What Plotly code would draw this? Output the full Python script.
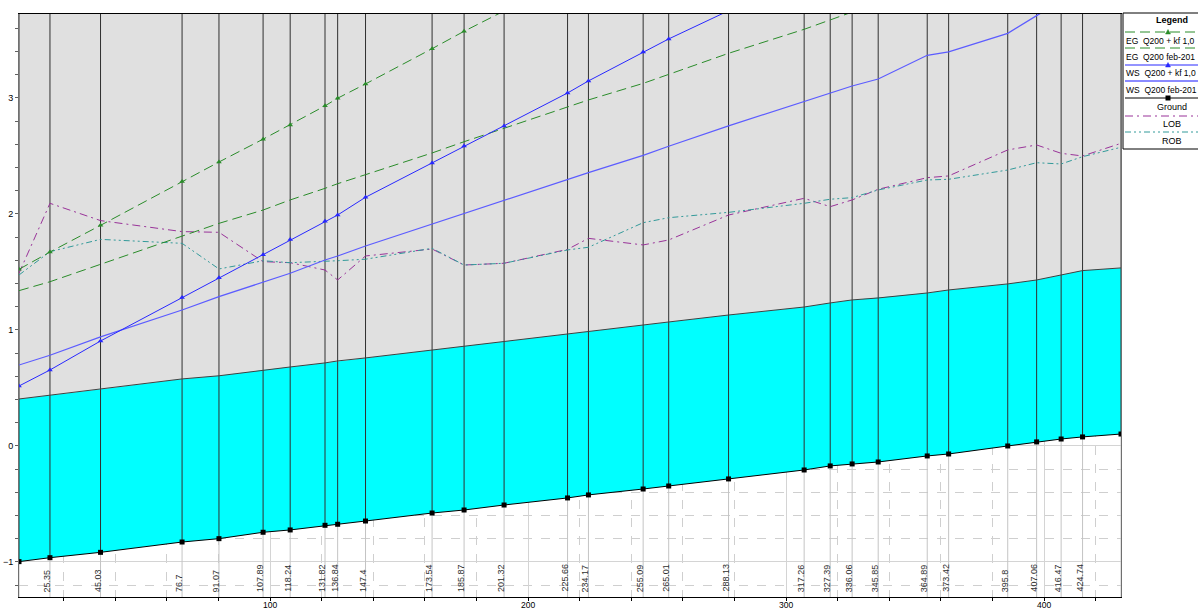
import plotly.graph_objects as go

# River stations (labels) and their main channel distances along the profile
station_labels = ["", "25.35", "45.03", "76.7", "91.07", "107.89", "118.24", "131.82",
                  "136.84", "147.4", "173.54", "185.87", "201.32", "225.66", "234.17",
                  "255.09", "265.01", "288.13", "317.26", "327.39", "336.06", "345.85",
                  "364.89", "373.42", "395.8", "407.06", "416.47", "424.74", ""]
distance = [2.7, 14.7, 34.3, 65.9, 80.2, 97.3, 107.8, 121.3, 126.2, 137.0, 162.8, 175.2,
            190.7, 215.3, 223.4, 244.6, 254.5, 277.7, 307.0, 317.1, 325.6, 335.7, 354.7,
            363.0, 385.9, 397.1, 406.6, 414.9, 429.8]

ground = [-0.997, -0.963, -0.917, -0.828, -0.799, -0.744, -0.724, -0.684, -0.675, -0.647,
          -0.578, -0.552, -0.509, -0.448, -0.422, -0.371, -0.345, -0.284, -0.207, -0.172,
          -0.155, -0.138, -0.086, -0.069, 0.000, 0.035, 0.060, 0.078, 0.103]
fill_top = [0.405, 0.437, 0.489, 0.578, 0.605, 0.655, 0.681, 0.716, 0.733, 0.759, 0.828,
            0.862, 0.905, 0.966, 0.991, 1.043, 1.069, 1.129, 1.198, 1.233, 1.259, 1.276,
            1.319, 1.345, 1.397, 1.431, 1.474, 1.512, 1.535]

eg_kf = [1.523, 1.672, 1.902, 2.279, 2.448, 2.645, 2.768, 2.932, 2.998, 3.121, 3.425,
         3.575, 3.750]
ws_kf = [0.517, 0.655, 0.905, 1.279, 1.450, 1.649, 1.779, 1.937, 1.991, 2.144, 2.440,
         2.586, 2.759, 3.043, 3.147, 3.397, 3.509, 3.752]
eg_feb = [1.339, 1.416, 1.566, 1.807, 1.919, 2.034, 2.121, 2.221, 2.261, 2.339, 2.526,
          2.623, 2.739, 2.920, 2.983, 3.126, 3.204, 3.385, 3.592, 3.672, 3.741]
ws_feb = [0.698, 0.782, 0.940, 1.172, 1.287, 1.412, 1.489, 1.603, 1.638, 1.724, 1.914,
          2.003, 2.121, 2.299, 2.357, 2.505, 2.584, 2.759, 2.968, 3.040, 3.103, 3.164,
          3.368, 3.397, 3.557, 3.710, 3.835]
lob = [1.489, 2.092, 1.943, 1.848, 1.842, 1.589, 1.580, 1.517, 1.431, 1.638, 1.698, 1.560,
       1.575, 1.695, 1.790, 1.733, 1.776, 1.991, 2.135, 2.063, 2.121, 2.213, 2.313, 2.328,
       2.552, 2.595, 2.523, 2.500, 2.609]
rob = [1.474, 1.675, 1.781, 1.747, 1.526, 1.597, 1.580, 1.597, 1.597, 1.610, 1.704, 1.560,
       1.575, 1.690, 1.713, 1.925, 1.968, 2.014, 2.092, 2.127, 2.141, 2.207, 2.293, 2.299,
       2.379, 2.442, 2.431, 2.494, 2.575]

legend_names = ["EG  Q200 + kf 1,0", "EG  Q200 feb-201", "WS  Q200 + kf 1,0",
                "WS  Q200 feb-201", "Ground", "LOB", "ROB"]

X_RANGE = [distance[0], distance[-1]]
Y_RANGE = [-1.302, 3.724]

GREEN = "#2a8c2a"
BLUE_KF = "#2828ff"
BLUE_FEB = "#5c5cff"
PURPLE = "#993399"
TEAL = "#339a9a"
FONT = "Liberation Sans, Arial, sans-serif"

fig = go.Figure()

# grey band above the cyan area
fig.add_trace(go.Scatter(
    x=distance + distance[::-1], y=fill_top + [Y_RANGE[1]] * len(distance),
    fill="toself", fillcolor="#e0e0e0", line=dict(width=0), mode="lines",
    hoverinfo="skip", showlegend=False))
# cyan area between ground and the upper bank line
fig.add_trace(go.Scatter(
    x=distance + distance[::-1], y=ground + fill_top[::-1],
    fill="toself", fillcolor="#00ffff", line=dict(width=0), mode="lines",
    hoverinfo="skip", showlegend=False))

# section lines: light grey below ground, dark above
vx_low, vy_low, vx_up, vy_up = [], [], [], []
for d, g in zip(distance, ground):
    vx_low += [d, d, None]
    vy_low += [Y_RANGE[0], g, None]
    vx_up += [d, d, None]
    vy_up += [g, Y_RANGE[1], None]
fig.add_trace(go.Scatter(x=vx_low, y=vy_low, mode="lines",
                         line=dict(color="#c4c4c4", width=1), hoverinfo="skip",
                         showlegend=False))
fig.add_trace(go.Scatter(x=vx_up, y=vy_up, mode="lines",
                         line=dict(color="#303030", width=1), hoverinfo="skip",
                         showlegend=False))

# bank stations
fig.add_trace(go.Scatter(x=distance, y=lob, mode="lines", name="LOB",
                         line=dict(color=PURPLE, width=1, dash="8px,4px,2px,4px")))
fig.add_trace(go.Scatter(x=distance, y=rob, mode="lines", name="ROB",
                         line=dict(color=TEAL, width=1, dash="6px,3px,2px,3px,2px,3px")))

# energy grade lines
fig.add_trace(go.Scatter(x=distance[:len(eg_feb)], y=eg_feb, mode="lines",
                         name=legend_names[1],
                         line=dict(color=GREEN, width=1, dash="10px,5px")))
fig.add_trace(go.Scatter(x=distance[:len(eg_kf)], y=eg_kf, mode="lines+markers",
                         name=legend_names[0],
                         line=dict(color=GREEN, width=1, dash="10px,5px"),
                         marker=dict(symbol="triangle-up", size=5, color=GREEN)))

# water surfaces
fig.add_trace(go.Scatter(x=distance[:len(ws_feb)], y=ws_feb, mode="lines",
                         name=legend_names[3], line=dict(color=BLUE_FEB, width=1.2)))
fig.add_trace(go.Scatter(x=distance[:len(ws_kf)], y=ws_kf, mode="lines+markers",
                         name=legend_names[2], line=dict(color=BLUE_KF, width=1),
                         marker=dict(symbol="triangle-up", size=5, color=BLUE_KF)))

# top edge of the cyan area and the ground profile
fig.add_trace(go.Scatter(x=distance, y=fill_top, mode="lines",
                         line=dict(color="#404040", width=1), hoverinfo="skip",
                         showlegend=False))
fig.add_trace(go.Scatter(x=distance, y=ground, mode="lines+markers", name="Ground",
                         line=dict(color="black", width=1),
                         marker=dict(symbol="square", size=5, color="black")))

# plot-area geometry in pixels, used for the hand-drawn legend box
L, R, T, B = 19, 1121, 14, 597


def px_x(px):
    return (px - L) / (R - L)


def px_y(py):
    return (B - py) / (B - T)


annotations = []
for d, lab in zip(distance, station_labels):
    if not lab:
        continue
    annotations.append(dict(
        x=d, y=px_y(594), xref="x", yref="paper", text=lab, textangle=-90,
        showarrow=False, xanchor="center", yanchor="bottom", xshift=-3,
        font=dict(family=FONT, size=9, color="#303030")))

shapes = [dict(type="rect", xref="paper", yref="paper",
               x0=px_x(1123), x1=px_x(1240), y0=px_y(149), y1=px_y(13),
               line=dict(color="black", width=1), fillcolor="white", layer="above")]

annotations.append(dict(x=px_x(1172), y=px_y(20), xref="paper", yref="paper",
                        text="<b>Legend</b>", showarrow=False, xanchor="center",
                        yanchor="middle", font=dict(family=FONT, size=9, color="black")))

legend_styles = [
    (GREEN, "10px,5px", "tri"),
    (GREEN, "10px,5px", None),
    (BLUE_KF, "solid", "tri"),
    ("#8a8aff", "solid", None),
    ("black", "solid", "sq"),
    (PURPLE, "8px,4px,2px,4px", None),
    (TEAL, "6px,3px,2px,3px,2px,3px", None),
]
line_y = [32, 48, 65, 81, 98, 116, 132]
text_y = [41, 57, 73, 90, 107, 124, 141]
for i, (name, (col, dash, mk)) in enumerate(zip(legend_names, legend_styles)):
    width = 2 if i == 3 else 1
    shapes.append(dict(type="line", xref="paper", yref="paper",
                       x0=px_x(1125), x1=px_x(1240), y0=px_y(line_y[i]), y1=px_y(line_y[i]),
                       line=dict(color=col, width=width, dash=dash), layer="above"))
    if mk == "tri":
        cx, cy = 1168, line_y[i]
        path = (f"M {px_x(cx - 2.5)} {px_y(cy + 2)} L {px_x(cx + 2.5)} {px_y(cy + 2)} "
                f"L {px_x(cx)} {px_y(cy - 2.5)} Z")
        shapes.append(dict(type="path", xref="paper", yref="paper", path=path,
                           fillcolor=col, line=dict(color=col, width=0.5), layer="above"))
    elif mk == "sq":
        cx, cy = 1168, line_y[i]
        shapes.append(dict(type="rect", xref="paper", yref="paper",
                           x0=px_x(cx - 2.5), x1=px_x(cx + 2.5),
                           y0=px_y(cy + 2.5), y1=px_y(cy - 2.5),
                           fillcolor=col, line=dict(color=col, width=0), layer="above"))
    if i < 4:
        annotations.append(dict(x=px_x(1124), y=px_y(text_y[i]), xref="paper",
                                yref="paper", text=name, showarrow=False,
                                xanchor="left", yanchor="middle",
                                font=dict(family=FONT, size=8.5, color="black")))
    else:
        annotations.append(dict(x=px_x(1172), y=px_y(text_y[i]), xref="paper",
                                yref="paper", text=name, showarrow=False,
                                xanchor="center", yanchor="middle",
                                font=dict(family=FONT, size=9, color="black")))

fig.update_layout(
    template="none",
    width=1198, height=610,
    margin=dict(l=L, r=1198 - R, t=T, b=610 - B, pad=0, autoexpand=False),
    paper_bgcolor="white", plot_bgcolor="white",
    showlegend=False,
    font=dict(family=FONT, size=9, color="black"),
    annotations=annotations, shapes=shapes,
    xaxis=dict(range=X_RANGE, tick0=0, dtick=100, ticks="outside", ticklen=3,
               automargin=False, ticklabelstandoff=-3,
               tickcolor="black", showgrid=True, gridcolor="#d4d4d4", gridwidth=1,
               zeroline=False, showline=True, linecolor="black", linewidth=1,
               mirror=True, tickfont=dict(family=FONT, size=8.5, color="black"),
               minor=dict(dtick=20, tick0=0, ticks="outside", ticklen=3,
                          tickcolor="black", showgrid=True, gridcolor="#cfcfcf",
                          griddash="dash", gridwidth=1)),
    yaxis=dict(range=Y_RANGE, tick0=0, dtick=1, ticks="outside", ticklen=3,
               automargin=False,
               tickcolor="#606060", showgrid=True, gridcolor="#d4d4d4", gridwidth=1,
               zeroline=False, showline=True, linecolor="#707070", linewidth=1,
               mirror=True, tickfont=dict(family=FONT, size=9, color="black"),
               minor=dict(dtick=0.2, tick0=0, ticks="outside", ticklen=3,
                          tickcolor="#606060", showgrid=True, gridcolor="#cfcfcf",
                          griddash="dash", gridwidth=1)),
)

fig.write_html("out.html")
